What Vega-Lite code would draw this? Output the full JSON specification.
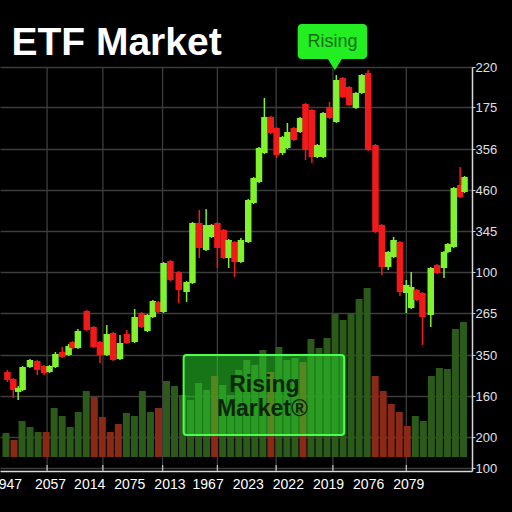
{
  "$schema": "https://vega.github.io/schema/vega-lite/v6.json",
  "width": 472,
  "height": 404,
  "autosize": "none",
  "padding": {"left": 0, "top": 67, "right": 40, "bottom": 41},
  "background": "#000000",
  "config": {"view": {"stroke": null}, "font": "Liberation Sans"},
  "title": {"text": "ETF Market", "anchor": "start", "dx": 21, "dy": 31, "fontSize": 39, "fontWeight": "bold", "color": "#ffffff", "font": "Liberation Sans", "baseline": "alphabetic", "offset": -39},
  "datasets": {
    "grid": [{"t": 43}, {"t": 100}, {"t": 161}, {"t": 217}, {"t": 277}, {"t": 335}, {"t": 410}],
    "vol": [
      {"t": 1, "v": 38, "d": "up"}, {"t": 9.2, "v": 31, "d": "down"}, {"t": 17.4, "v": 50, "d": "up"}, {"t": 25.6, "v": 44, "d": "up"},
      {"t": 33.8, "v": 39, "d": "up"}, {"t": 42, "v": 39, "d": "down"}, {"t": 50.2, "v": 63, "d": "up"}, {"t": 58.4, "v": 55, "d": "up"},
      {"t": 66.6, "v": 44, "d": "up"}, {"t": 74.8, "v": 59, "d": "up"}, {"t": 83, "v": 80, "d": "up"}, {"t": 91.2, "v": 74, "d": "down"},
      {"t": 99.4, "v": 54, "d": "down"}, {"t": 107.6, "v": 39, "d": "down"}, {"t": 115.8, "v": 47, "d": "down"}, {"t": 124, "v": 58, "d": "up"},
      {"t": 132.2, "v": 55, "d": "up"}, {"t": 140.4, "v": 80, "d": "up"}, {"t": 148.6, "v": 59, "d": "up"}, {"t": 156.8, "v": 63, "d": "down"},
      {"t": 165, "v": 90, "d": "up"}, {"t": 173.2, "v": 85, "d": "up"}, {"t": 181.4, "v": 76, "d": "up"}, {"t": 189.6, "v": 71, "d": "up"},
      {"t": 197.8, "v": 88, "d": "up"}, {"t": 206, "v": 81, "d": "up"}, {"t": 214.2, "v": 95, "d": "down"}, {"t": 222.4, "v": 86, "d": "up"},
      {"t": 230.6, "v": 76, "d": "up"}, {"t": 238.8, "v": 101, "d": "up"}, {"t": 247, "v": 111, "d": "up"}, {"t": 255.2, "v": 106, "d": "up"},
      {"t": 263.4, "v": 121, "d": "up"}, {"t": 271.6, "v": 99, "d": "down"}, {"t": 279.8, "v": 124, "d": "up"}, {"t": 288, "v": 111, "d": "up"},
      {"t": 296.2, "v": 113, "d": "up"}, {"t": 304.4, "v": 109, "d": "down"}, {"t": 312.6, "v": 132, "d": "up"}, {"t": 320.8, "v": 123, "d": "up"},
      {"t": 329, "v": 133, "d": "up"}, {"t": 337.2, "v": 157, "d": "up"}, {"t": 345.4, "v": 151, "d": "up"}, {"t": 353.6, "v": 158, "d": "up"},
      {"t": 361.8, "v": 172, "d": "up"}, {"t": 370, "v": 183, "d": "up"}, {"t": 378.2, "v": 95, "d": "down"}, {"t": 386.4, "v": 80, "d": "down"},
      {"t": 394.6, "v": 67, "d": "down"}, {"t": 402.8, "v": 59, "d": "down"}, {"t": 411, "v": 45, "d": "down"}, {"t": 419.2, "v": 55, "d": "up"},
      {"t": 427.4, "v": 50, "d": "up"}, {"t": 435.6, "v": 95, "d": "up"}, {"t": 443.8, "v": 103, "d": "up"}, {"t": 452, "v": 102, "d": "up"},
      {"t": 460.2, "v": 142, "d": "up"}, {"t": 468.4, "v": 149, "d": "up"}
    ],
    "candles": [
      {"t": 2.5, "o": 99, "c": 91, "h": 101, "l": 89}, {"t": 8.5, "o": 92, "c": 81, "h": 93, "l": 73}, {"t": 13.5, "o": 79, "c": 83, "h": 85, "l": 71},
      {"t": 18, "o": 81, "c": 104, "h": 105, "l": 80}, {"t": 25.5, "o": 104, "c": 111, "h": 112, "l": 103}, {"t": 33, "o": 110, "c": 101, "h": 111, "l": 96},
      {"t": 40, "o": 105, "c": 98, "h": 106, "l": 96}, {"t": 45.5, "o": 99, "c": 105, "h": 106, "l": 98}, {"t": 51.5, "o": 104, "c": 117, "h": 119, "l": 103},
      {"t": 58.5, "o": 119, "c": 114, "h": 124, "l": 113}, {"t": 65, "o": 116, "c": 125, "h": 127, "l": 115}, {"t": 69, "o": 129, "c": 123, "h": 130, "l": 122},
      {"t": 74.5, "o": 123, "c": 140, "h": 142, "l": 122}, {"t": 83.5, "o": 160, "c": 141, "h": 161, "l": 140}, {"t": 90.5, "o": 144, "c": 124, "h": 145, "l": 123},
      {"t": 97, "o": 129, "c": 116, "h": 130, "l": 108}, {"t": 104, "o": 116, "c": 137, "h": 146, "l": 115}, {"t": 110.5, "o": 138, "c": 111, "h": 139, "l": 110},
      {"t": 117.5, "o": 112, "c": 128, "h": 136, "l": 111}, {"t": 124.5, "o": 137, "c": 128, "h": 141, "l": 127}, {"t": 132.5, "o": 129, "c": 154, "h": 162, "l": 128},
      {"t": 139.5, "o": 158, "c": 144, "h": 159, "l": 143}, {"t": 145.5, "o": 140, "c": 156, "h": 157, "l": 139}, {"t": 151, "o": 154, "c": 170, "h": 171, "l": 153},
      {"t": 156.5, "o": 169, "c": 159, "h": 170, "l": 158}, {"t": 162, "o": 159, "c": 208, "h": 209, "l": 158}, {"t": 169, "o": 210, "c": 191, "h": 211, "l": 190},
      {"t": 177.5, "o": 199, "c": 181, "h": 200, "l": 168}, {"t": 185.5, "o": 179, "c": 189, "h": 190, "l": 169}, {"t": 191.5, "o": 188, "c": 248, "h": 249, "l": 187},
      {"t": 198.5, "o": 248, "c": 223, "h": 261, "l": 213}, {"t": 205.5, "o": 221, "c": 246, "h": 262, "l": 220}, {"t": 211, "o": 234, "c": 246, "h": 247, "l": 233},
      {"t": 217, "o": 248, "c": 223, "h": 249, "l": 203}, {"t": 223.5, "o": 241, "c": 213, "h": 242, "l": 212}, {"t": 228.5, "o": 213, "c": 231, "h": 232, "l": 203},
      {"t": 234.5, "o": 229, "c": 209, "h": 230, "l": 194}, {"t": 241, "o": 209, "c": 231, "h": 233, "l": 208}, {"t": 248.5, "o": 229, "c": 271, "h": 272, "l": 228},
      {"t": 254, "o": 268, "c": 293, "h": 294, "l": 267}, {"t": 259.5, "o": 289, "c": 323, "h": 324, "l": 288}, {"t": 265, "o": 318, "c": 354, "h": 373, "l": 317},
      {"t": 271.5, "o": 354, "c": 338, "h": 355, "l": 337}, {"t": 277.5, "o": 343, "c": 316, "h": 344, "l": 313}, {"t": 283.5, "o": 318, "c": 334, "h": 335, "l": 316},
      {"t": 288.5, "o": 323, "c": 339, "h": 348, "l": 322}, {"t": 295, "o": 343, "c": 331, "h": 344, "l": 330}, {"t": 301.5, "o": 339, "c": 353, "h": 354, "l": 338},
      {"t": 307, "o": 367, "c": 321, "h": 368, "l": 311}, {"t": 313.5, "o": 361, "c": 314, "h": 362, "l": 308}, {"t": 319, "o": 314, "c": 326, "h": 327, "l": 313},
      {"t": 325, "o": 314, "c": 358, "h": 359, "l": 313}, {"t": 331.5, "o": 364, "c": 353, "h": 369, "l": 352}, {"t": 338.5, "o": 349, "c": 391, "h": 396, "l": 348},
      {"t": 345, "o": 393, "c": 374, "h": 394, "l": 373}, {"t": 351.5, "o": 384, "c": 366, "h": 385, "l": 365}, {"t": 358.5, "o": 363, "c": 378, "h": 379, "l": 362},
      {"t": 364.5, "o": 378, "c": 396, "h": 397, "l": 377}, {"t": 371, "o": 398, "c": 321, "h": 401, "l": 320}, {"t": 378.5, "o": 326, "c": 239, "h": 327, "l": 238},
      {"t": 385, "o": 246, "c": 204, "h": 247, "l": 196}, {"t": 391.5, "o": 204, "c": 219, "h": 220, "l": 201}, {"t": 397, "o": 214, "c": 231, "h": 234, "l": 213},
      {"t": 403.5, "o": 229, "c": 179, "h": 230, "l": 175}, {"t": 410, "o": 178, "c": 186, "h": 191, "l": 158}, {"t": 415, "o": 163, "c": 184, "h": 199, "l": 162},
      {"t": 420.5, "o": 181, "c": 171, "h": 182, "l": 170}, {"t": 426.5, "o": 178, "c": 154, "h": 179, "l": 126}, {"t": 435, "o": 156, "c": 203, "h": 204, "l": 144},
      {"t": 441.5, "o": 206, "c": 198, "h": 207, "l": 197}, {"t": 448.5, "o": 203, "c": 219, "h": 220, "l": 193}, {"t": 452.5, "o": 219, "c": 227, "h": 228, "l": 218},
      {"t": 458.5, "o": 224, "c": 283, "h": 284, "l": 223}, {"t": 465, "o": 286, "c": 274, "h": 304, "l": 273}, {"t": 469.5, "o": 279, "c": 294, "h": 295, "l": 278}
    ],
    "box": [{"x1": 182.5, "x2": 346.5, "y1": 116, "y2": 36}],
    "boxtext": [{"x": 265, "y": 86, "label": "Rising"}, {"x": 263, "y": 62, "label": "Market®"}],
    "callout": [{"x1": 299, "x2": 370, "y1": 447, "y2": 412}],
    "pointer": [{"x": 337, "y": 406.5}],
    "callouttext": [{"x": 334.5, "y": 429, "label": "Rising"}]
  },
  "layer": [
    {
      "data": {"name": "grid"},
      "mark": {"type": "rule", "color": "#3d3d3d", "strokeWidth": 1.3},
      "encoding": {"x": {"field": "t", "type": "quantitative", "scale": {"domain": [0, 472], "nice": false}, "axis": {"title": null}}}
    },
    {
      "data": {"name": "vol"},
      "mark": {"type": "bar", "size": 7},
      "encoding": {
        "x": {"field": "t", "type": "quantitative", "scale": {"domain": [0, 472], "nice": false},
          "axis": {"values": [1, 46, 86, 127, 168, 207, 248, 289, 330, 371, 412],
            "labelExpr": "datum.value == 1 ? '1947' : datum.value == 46 ? '2057' : datum.value == 86 ? '2014' : datum.value == 127 ? '2075' : datum.value == 168 ? '2013' : datum.value == 207 ? '1967' : datum.value == 248 ? '2023' : datum.value == 289 ? '2022' : datum.value == 330 ? '2019' : datum.value == 371 ? '2076' : '2079'",
            "ticks": false, "grid": false, "domain": true, "domainColor": "#d8d8d8", "domainWidth": 1.5,
            "labelColor": "#ffffff", "labelFontSize": 14, "labelFont": "Liberation Sans", "labelPadding": 6, "labelOverlap": false, "labelFlush": false, "title": null}},
        "y": {"field": "v", "type": "quantitative", "scale": {"domain": [0, 404], "nice": false},
          "axis": {"orient": "right", "values": [3, 34, 75, 116, 158, 199, 240, 281, 322, 364, 404],
            "labelExpr": "datum.value == 3 ? '100' : datum.value == 34 ? '200' : datum.value == 75 ? '160' : datum.value == 116 ? '350' : datum.value == 158 ? '265' : datum.value == 199 ? '100' : datum.value == 240 ? '345' : datum.value == 281 ? '460' : datum.value == 322 ? '356' : datum.value == 364 ? '175' : '220'",
            "grid": true, "gridColor": "#3d3d3d", "gridWidth": 1.3, "ticks": true, "tickSize": 3, "tickColor": "#cccccc",
            "domain": true, "domainColor": "#d8d8d8", "domainWidth": 1.5,
            "labelColor": "#e0e0e0", "labelFontSize": 13, "labelFont": "Liberation Sans", "labelPadding": 0, "labelOverlap": false, "labelFlush": false, "title": null}},
        "y2": {"datum": 14},
        "color": {"field": "d", "type": "nominal", "scale": {"domain": ["up", "down"], "range": ["#2c5a1b", "#8a2a16"]}, "legend": null}
      }
    },
    {
      "data": {"name": "candles"},
      "mark": {"type": "rule", "strokeWidth": 1.5},
      "encoding": {
        "x": {"field": "t", "type": "quantitative", "scale": {"domain": [0, 472], "nice": false}, "axis": {"title": null}},
        "y": {"field": "l", "type": "quantitative", "scale": {"domain": [0, 404], "nice": false}, "axis": {"title": null}},
        "y2": {"field": "h"},
        "color": {"condition": {"test": "datum.c >= datum.o", "value": "#80f22e"}, "value": "#f2191b"}
      }
    },
    {
      "data": {"name": "candles"},
      "mark": {"type": "rule", "strokeWidth": 6.5},
      "encoding": {
        "x": {"field": "t", "type": "quantitative", "scale": {"domain": [0, 472], "nice": false}, "axis": {"title": null}},
        "y": {"field": "o", "type": "quantitative", "scale": {"domain": [0, 404], "nice": false}, "axis": {"title": null}},
        "y2": {"field": "c"},
        "color": {"condition": {"test": "datum.c >= datum.o", "value": "#80f22e"}, "value": "#f2191b"}
      }
    },
    {
      "data": {"name": "grid"},
      "mark": {"type": "rule", "color": "#bbbbbb", "strokeWidth": 1.3},
      "encoding": {
        "x": {"field": "t", "type": "quantitative", "scale": {"domain": [0, 472], "nice": false}, "axis": {"title": null}},
        "y": {"datum": 0, "type": "quantitative", "scale": {"domain": [0, 404], "nice": false}, "axis": {"title": null}},
        "y2": {"datum": 6}
      }
    },
    {
      "data": {"name": "box"},
      "mark": {"type": "rect", "fill": "#2ad42a", "fillOpacity": 0.55, "stroke": "#4dff4d", "strokeWidth": 2, "cornerRadius": 3},
      "encoding": {
        "x": {"field": "x1", "type": "quantitative", "scale": {"domain": [0, 472], "nice": false}, "axis": {"title": null}},
        "x2": {"field": "x2"},
        "y": {"field": "y1", "type": "quantitative", "scale": {"domain": [0, 404], "nice": false}, "axis": {"title": null}},
        "y2": {"field": "y2"}
      }
    },
    {
      "data": {"name": "boxtext"},
      "mark": {"type": "text", "font": "Liberation Sans", "fontSize": 23, "fontWeight": "bold", "color": "#0b260b", "align": "center", "baseline": "middle"},
      "encoding": {
        "x": {"field": "x", "type": "quantitative", "scale": {"domain": [0, 472], "nice": false}, "axis": {"title": null}},
        "y": {"field": "y", "type": "quantitative", "scale": {"domain": [0, 404], "nice": false}, "axis": {"title": null}},
        "text": {"field": "label"}
      }
    },
    {
      "data": {"name": "callout"},
      "mark": {"type": "rect", "fill": "#22ee22", "cornerRadius": 4},
      "encoding": {
        "x": {"field": "x1", "type": "quantitative", "scale": {"domain": [0, 472], "nice": false}, "axis": {"title": null}},
        "x2": {"field": "x2"},
        "y": {"field": "y1", "type": "quantitative", "scale": {"domain": [0, 404], "nice": false}, "axis": {"title": null}},
        "y2": {"field": "y2"}
      }
    },
    {
      "data": {"name": "pointer"},
      "mark": {"type": "point", "shape": "M-1,-1L1,-1L0,0.6Z", "filled": true, "size": 361, "color": "#22ee22", "opacity": 1},
      "encoding": {
        "x": {"field": "x", "type": "quantitative", "scale": {"domain": [0, 472], "nice": false}, "axis": {"title": null}},
        "y": {"field": "y", "type": "quantitative", "scale": {"domain": [0, 404], "nice": false}, "axis": {"title": null}}
      }
    },
    {
      "data": {"name": "callouttext"},
      "mark": {"type": "text", "font": "Liberation Sans", "fontSize": 18, "color": "#136b16", "align": "center", "baseline": "middle"},
      "encoding": {
        "x": {"field": "x", "type": "quantitative", "scale": {"domain": [0, 472], "nice": false}, "axis": {"title": null}},
        "y": {"field": "y", "type": "quantitative", "scale": {"domain": [0, 404], "nice": false}, "axis": {"title": null}},
        "text": {"field": "label"}
      }
    }
  ]
}
